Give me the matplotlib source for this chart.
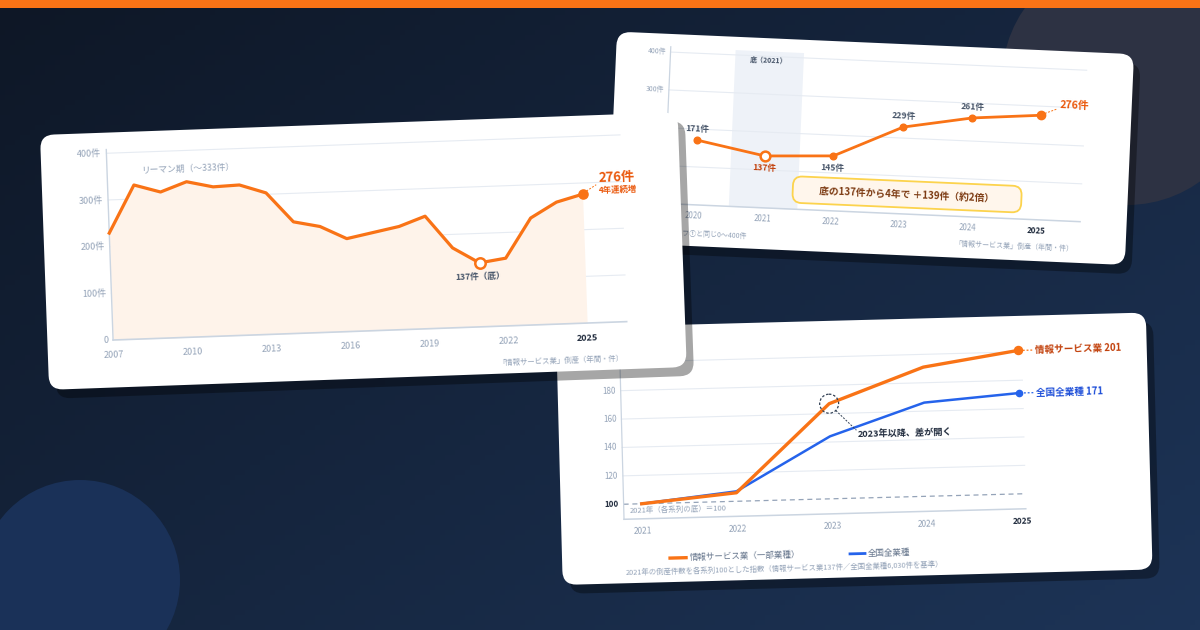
import numpy as np
import matplotlib
matplotlib.use("Agg")
import matplotlib.pyplot as plt
from matplotlib.colors import LinearSegmentedColormap
from matplotlib.patches import FancyBboxPatch, Circle, Rectangle
from matplotlib.transforms import Affine2D, Bbox, BboxTransform

plt.rcParams['font.family'] = ['Noto Sans CJK JP', 'DejaVu Sans']

# ---- データ ----
# グラフ1: 情報サービス業の倒産件数（年間）
years_all = list(range(2007, 2026))
cases_all = [229, 330, 313, 333, 320, 322, 303, 239, 227, 199, 210, 221, 241, 171, 137, 145, 229, 261, 276]
x_ticks_all = [2007, 2010, 2013, 2016, 2019, 2022, 2025]
y_ticks_cases = [0, 100, 200, 300, 400]

# グラフ2: 2020年以降
years_recent = [2020, 2021, 2022, 2023, 2024, 2025]
cases_recent = [171, 137, 145, 229, 261, 276]

# グラフ3: 2021年=100 の指数
years_idx = [2021, 2022, 2023, 2024, 2025]
idx_info = [100, 106, 167, 191, 201]
idx_all = [100, 107, 144, 166, 171]
y_ticks_idx = [100, 120, 140, 160, 180, 200]

ORANGE = '#f97316'
ORANGE_D = '#ea580c'
BLUE = '#2563eb'
GRAY = '#94a3b8'
GRID = '#e6ebf2'
SPINE = '#cbd5e1'
DARK = '#1e293b'
SLATE = '#475569'

fig = plt.figure(figsize=(12, 6.3), dpi=100)
bg = fig.add_axes([0, 0, 1, 1])
bg.set_xlim(0, 1200)
bg.set_ylim(630, 0)
bg.set_autoscale_on(False)
bg.axis('off')

# 背景（グラデーション + 円）
cmap = LinearSegmentedColormap.from_list('bg', ['#0e1726', '#1d3457'])
gx, gy = np.meshgrid(np.linspace(0, 1, 240), np.linspace(0, 1, 126))
bg.imshow(gx * 0.55 + gy * 0.45, cmap=cmap, extent=(0, 1200, 630, 0), aspect='auto', zorder=0)
bg.add_patch(Circle((1127, 80), 125, color='#2d3243', lw=0, zorder=1))
bg.add_patch(Circle((80, 580), 100, color='#1a3158', lw=0, zorder=1))
bg.add_patch(Rectangle((0, 0), 1200, 8, color=ORANGE, lw=0, zorder=100))


def make_card(tl, w, h, ang, z):
    # カードのローカル座標(px, 下向き) -> 画像座標
    to_img = Affine2D().rotate_deg(-ang).translate(*tl) + bg.transData
    bg.add_patch(FancyBboxPatch((7, 9), w, h, boxstyle='round,pad=0,rounding_size=14',
                                transform=to_img, fc='black', ec='none', alpha=0.35, zorder=z))
    bg.add_patch(FancyBboxPatch((0, 0), w, h, boxstyle='round,pad=0,rounding_size=14',
                                transform=to_img, fc='white', ec='none', zorder=z + 1))
    return to_img


def card_axes(to_img, xlim, ylim, rect):
    # データ座標 -> カード内のプロット領域
    l, t, r, b = rect
    box = BboxTransform(Bbox([[xlim[0], ylim[0]], [xlim[1], ylim[1]]]), Bbox([[l, b], [r, t]]))
    return box, (lambda dx=0, dy=0: box + Affine2D().translate(dx, dy) + to_img)


def text(trans, ang, x, y, s, z, **kw):
    bg.text(x, y, s, transform=trans, rotation=ang, rotation_mode='anchor', zorder=z, **kw)


# ================= カード2（右上） =================
A2 = -2.5
c2 = make_card((617, 31.6), 517.5, 211, A2, 10)
xl2, yl2 = (2019.56, 2025.64), (0, 414)
box2, d2 = card_axes(c2, xl2, yl2, (54.4, 12.8, 470.9, 169.7))
T2 = d2()
i_min2 = cases_recent.index(min(cases_recent))
yr_min = years_recent[i_min2]
bg.fill_between([yr_min - 0.5, yr_min + 0.5], 0, yl2[1], transform=T2, color='#eef2f8', lw=0, zorder=12)
for v in y_ticks_cases[1:]:
    bg.plot(xl2, [v, v], transform=T2, color=GRID, lw=0.8, zorder=13)
bg.plot([xl2[0]] * 2, yl2, transform=T2, color=SPINE, lw=0.9, zorder=13)
bg.plot(xl2, [0, 0], transform=T2, color=SPINE, lw=1.1, zorder=13)
for v in y_ticks_cases:
    text(d2(-4, 0), A2, xl2[0], v, '0' if v == 0 else f'{v}件', 18, ha='right', va='center', fontsize=5, color=GRAY)
for yr in years_recent:
    last = yr == years_recent[-1]
    text(d2(0, 11), A2, yr, 0, str(yr), 18, ha='center', va='center', fontsize=5.7,
         color=DARK if last else GRAY, fontweight='bold' if last else 'normal')
text(T2, A2, yr_min, 390, f'底（{yr_min}）', 18, ha='center', va='center', fontsize=5, color=SLATE, fontweight='bold')
bg.plot(years_recent, cases_recent, transform=T2, color=ORANGE, lw=2.0, solid_joinstyle='round', zorder=15)
for i, (yr, v) in enumerate(zip(years_recent, cases_recent)):
    if i == i_min2:
        bg.plot([yr], [v], transform=T2, marker='o', ms=7, mfc='white', mec=ORANGE, mew=1.8, zorder=16)
        text(d2(0, 12), A2, yr, v, f'{v}件', 18, ha='center', va='center', fontsize=6.2, color='#c2410c', fontweight='bold')
    elif i == len(years_recent) - 1:
        bg.plot([yr], [v], transform=T2, marker='o', ms=6, color=ORANGE, zorder=16)
        p = box2.transform((yr, v))
        bg.plot([p[0] + 4, p[0] + 16], [p[1] - 2, p[1] - 7], transform=c2, color=ORANGE, lw=0.7, ls=(0, (2, 1.5)), zorder=16)
        text(d2(18, -11), A2, yr, v, f'{v}件', 18, ha='left', va='center', fontsize=7.7, color=ORANGE_D, fontweight='bold')
    else:
        bg.plot([yr], [v], transform=T2, marker='o', ms=4.8, color=ORANGE, zorder=16)
        below = v < 150
        text(d2(0, 12 if below else -11), A2, yr, v, f'{v}件', 18, ha='center', va='center',
             fontsize=6.2, color=SLATE, fontweight='bold')
# 注記ボックス
bx0, by0 = box2.transform((2021.43, 87))
bx1, by1 = box2.transform((2024.77, 17))
bg.add_patch(FancyBboxPatch((bx0, by0), bx1 - bx0, by1 - by0, boxstyle='round,pad=0,rounding_size=9',
                            transform=c2, fc='#fff6ec', ec='#fcd34d', lw=1.3, zorder=17))
gain = cases_recent[-1] - min(cases_recent)
text(c2, A2, (bx0 + bx1) / 2, (by0 + by1) / 2,
     f'底の{min(cases_recent)}件から{years_recent[-1] - yr_min}年で ＋{gain}件（約2倍）', 18,
     ha='center', va='center', fontsize=7, color='#7c3a12', fontweight='bold')
text(c2, A2, 60, 199, 'グラフ①と同じ0〜400件', 18, ha='left', va='center', fontsize=5, color=GRAY)
text(c2, A2, 466, 197, '「情報サービス業」倒産（年間・件）', 18, ha='right', va='center', fontsize=5, color=GRAY)

# ================= カード3（右下） =================
A3 = 1.5
c3 = make_card((556, 328), 590, 257, A3, 20)
xl3, yl3 = (2020.81, 2025.04), (89.4, 208)
box3, d3 = card_axes(c3, xl3, yl3, (63.0, 24.6, 464.9, 193.0))
T3 = d3()
for v in y_ticks_idx[1:]:
    bg.plot(xl3, [v, v], transform=T3, color=GRID, lw=0.8, zorder=22)
bg.plot(xl3, [100, 100], transform=T3, color=GRAY, lw=0.9, ls=(0, (4, 3)), zorder=22)
bg.plot([xl3[0]] * 2, yl3, transform=T3, color=SPINE, lw=0.9, zorder=22)
bg.plot(xl3, [yl3[0]] * 2, transform=T3, color=SPINE, lw=1.1, zorder=22)
for v in y_ticks_idx:
    base = v == 100
    text(d3(-5, 0), A3, xl3[0], v, str(v), 28, ha='right', va='center', fontsize=5.8,
         color=DARK if base else GRAY, fontweight='bold' if base else 'normal')
for yr in years_idx:
    last = yr == years_idx[-1]
    text(d3(0, 12.5), A3, yr, yl3[0], str(yr), 28, ha='center', va='center', fontsize=6,
         color=DARK if last else GRAY, fontweight='bold' if last else 'normal')
text(T3, A3, 2020.87, 95, f'{years_idx[0]}年（各系列の底）＝100', 28, ha='left', va='center', fontsize=5.4, color=GRAY)
bg.plot(years_idx, idx_all, transform=T3, color=BLUE, lw=1.8, solid_joinstyle='round', zorder=24)
bg.plot(years_idx, idx_info, transform=T3, color=ORANGE, lw=2.4, solid_joinstyle='round', zorder=25)
bg.plot([years_idx[-1]], [idx_all[-1]], transform=T3, marker='o', ms=4.5, color=BLUE, zorder=26)
bg.plot([years_idx[-1]], [idx_info[-1]], transform=T3, marker='o', ms=5.8, color=ORANGE, zorder=26)
for vals, col, name in [(idx_info, '#c2410c', '情報サービス業'), (idx_all, '#1d4ed8', '全国全業種')]:
    p = box3.transform((years_idx[-1], vals[-1]))
    line_col = ORANGE if col == '#c2410c' else BLUE
    bg.plot([p[0] + 5, p[0] + 15], [p[1], p[1]], transform=c3, color=line_col, lw=0.9, ls=(0, (1.5, 1.5)), zorder=26)
    text(d3(17, 0), A3, years_idx[-1], vals[-1], f'{name} {vals[-1]}', 28, ha='left', va='center',
         fontsize=6.9, color=col, fontweight='bold')
# 2023年の差
cc = box3.transform((years_idx[2], idx_info[2]))
bg.add_patch(Circle(cc, 9.5, transform=c3, fill=False, ec='#334155', lw=0.9, ls=(0, (2, 1.5)), zorder=27))
tp = box3.transform((2023.29, 145))
bg.plot([cc[0] + 6.5, tp[0] - 1], [cc[1] + 7, tp[1] - 4], transform=c3, color='#334155', lw=0.7, ls=(0, (2, 1.5)), zorder=27)
text(T3, A3, 2023.29, 145, '2023年以降、差が開く', 28, ha='left', va='center', fontsize=6.6, color=DARK, fontweight='bold')
# 凡例
bg.plot([108, 124], [233, 233], transform=c3, color=ORANGE, lw=2.4, zorder=27)
text(c3, A3, 128, 233, '情報サービス業（一部業種）', 28, ha='left', va='center', fontsize=6.1, color='#64748b')
bg.plot([288, 303], [233.5, 233.5], transform=c3, color=BLUE, lw=2.0, zorder=27)
text(c3, A3, 306, 233.5, '全国全業種', 28, ha='left', va='center', fontsize=6.1, color='#64748b')
text(c3, A3, 63.5, 247, '2021年の倒産件数を各系列100とした指数（情報サービス業137件／全国全業種6,030件を基準）', 28,
     ha='left', va='center', fontsize=5.3, color=GRAY)

# ================= カード1（左、最前面） =================
A1 = 2.05
c1 = make_card((40, 135), 638, 255, A1, 30)
xl1, yl1 = (2007, 2026.5), (0, 408)
box1, d1 = card_axes(c1, xl1, yl1, (65.7, 16.9, 579.6, 207.5))
T1 = d1()
for v in y_ticks_cases[1:]:
    bg.plot(xl1, [v, v], transform=T1, color=GRID, lw=0.8, zorder=32)
bg.fill_between(years_all, cases_all, 0, transform=T1, color='#fef3ea', lw=0, zorder=33)
bg.plot([xl1[0]] * 2, yl1, transform=T1, color=SPINE, lw=1.0, zorder=34)
bg.plot(xl1, [0, 0], transform=T1, color=SPINE, lw=1.2, zorder=34)
bg.plot(years_all, cases_all, transform=T1, color=ORANGE, lw=2.3, solid_joinstyle='round', zorder=35)
i_min1 = cases_all.index(min(cases_all))
bg.plot([years_all[i_min1]], [cases_all[i_min1]], transform=T1, marker='o', ms=7.5, mfc='white', mec=ORANGE, mew=1.8, zorder=36)
bg.plot([years_all[-1]], [cases_all[-1]], transform=T1, marker='o', ms=6.6, color=ORANGE, zorder=36)
for v in y_ticks_cases:
    text(d1(-5, 0), A1, xl1[0], v, '0' if v == 0 else f'{v}件', 38, ha='right', va='center', fontsize=6.5, color=GRAY)
for yr in x_ticks_all:
    last = yr == x_ticks_all[-1]
    text(d1(0, 15), A1, yr, 0, str(yr), 38, ha='center', va='center', fontsize=6.5,
         color=DARK if last else GRAY, fontweight='bold' if last else 'normal')
text(T1, A1, 2008.3, 360, f'リーマン期（〜{max(cases_all)}件）', 38, ha='left', va='center', fontsize=6.3, color=GRAY)
text(d1(0, 14), A1, years_all[i_min1], cases_all[i_min1], f'{cases_all[i_min1]}件（底）', 38,
     ha='center', va='center', fontsize=6.2, color=SLATE, fontweight='bold')
p1 = box1.transform((years_all[-1], cases_all[-1]))
bg.plot([p1[0] + 4, p1[0] + 14], [p1[1] - 3, p1[1] - 9], transform=c1, color=ORANGE, lw=0.7, ls=(0, (2, 1.5)), zorder=36)
text(d1(16, -16), A1, years_all[-1], cases_all[-1], f'{cases_all[-1]}件', 38, ha='left', va='center',
     fontsize=9.5, color=ORANGE_D, fontweight='bold')
text(d1(16, -3), A1, years_all[-1], cases_all[-1], '4年連続増', 38, ha='left', va='center',
     fontsize=6, color=ORANGE_D, fontweight='bold')
text(c1, A1, 575, 244, '「情報サービス業」倒産（年間・件）', 38, ha='right', va='center', fontsize=5.3, color=GRAY)

fig.savefig('out.png', dpi=100)
